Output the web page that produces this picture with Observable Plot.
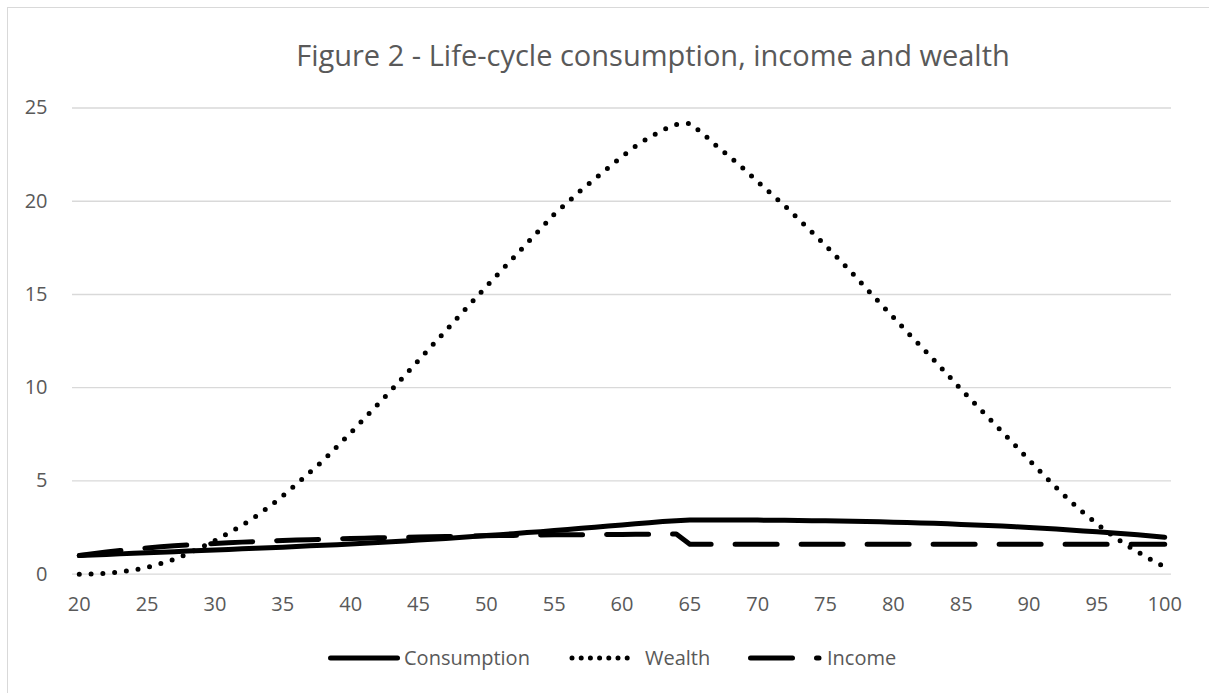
<!DOCTYPE html>
<html>
<head>
<meta charset="utf-8">
<script src="https://cdn.jsdelivr.net/npm/d3@7"></script>
<script src="https://cdn.jsdelivr.net/npm/@observablehq/plot@0.6"></script>
<style>
  html, body { margin: 0; padding: 0; background: #fff; }
  #wrap { position: relative; width: 1209px; height: 693px; overflow: hidden; font-family: "Open Sans", sans-serif; color: #595959; }
  #frame { position: absolute; left: 7px; top: 7px; width: 1300px; height: 800px; border-left: 1.5px solid #d9d9d9; border-top: 1.5px solid #d9d9d9; box-sizing: border-box; }
  #title { position: absolute; top: 40px; left: 653px; transform: translateX(-50%); white-space: nowrap; font-size: 29px; line-height: 29px; color: #595959; }
  #chart { position: absolute; left: 0; top: 90px; }
  .leg { position: absolute; top: 648px; font-size: 20px; line-height: 20px; white-space: nowrap; color: #595959; }
  .sw { position: absolute; top: 648px; }
</style>
</head>
<body>
<div id="wrap">
  <div id="frame"></div>
  <div id="title">Figure 2 - Life-cycle consumption, income and wealth</div>
  <div id="chart"></div>
  <svg class="sw" style="left:320px" width="90" height="20"><line x1="10.5" y1="10" x2="77.5" y2="10" stroke="#000" stroke-width="5" stroke-linecap="round"/></svg>
  <div class="leg" style="left:404px">Consumption</div>
  <svg class="sw" style="left:560px" width="90" height="20"><line x1="12" y1="10" x2="75" y2="10" stroke="#000" stroke-width="5" stroke-linecap="round" stroke-dasharray="0 9.2"/></svg>
  <div class="leg" style="left:645px">Wealth</div>
  <svg class="sw" style="left:740px" width="90" height="20"><line x1="10.5" y1="10" x2="79" y2="10" stroke="#000" stroke-width="5" stroke-linecap="round" stroke-dasharray="42 24"/></svg>
  <div class="leg" style="left:827px">Income</div>
</div>
<script>
const ages = [20,21,22,23,24,25,26,27,28,29,30,31,32,33,34,35,36,37,38,39,40,41,42,43,44,45,46,47,48,49,50,51,52,53,54,55,56,57,58,59,60,61,62,63,64,65,66,67,68,69,70,71,72,73,74,75,76,77,78,79,80,81,82,83,84,85,86,87,88,89,90,91,92,93,94,95,96,97,98,99,100];

const consumption = [1.00,1.03,1.06,1.09,1.12,1.15,1.18,1.21,1.24,1.27,1.30,1.33,1.36,1.39,1.42,1.45,1.48,1.52,1.55,1.58,1.62,1.66,1.70,1.74,1.78,1.83,1.87,1.92,1.97,2.02,2.07,2.12,2.17,2.23,2.28,2.34,2.40,2.46,2.52,2.58,2.64,2.70,2.76,2.82,2.87,2.90,2.91,2.91,2.91,2.90,2.90,2.89,2.89,2.88,2.87,2.86,2.85,2.84,2.82,2.81,2.79,2.77,2.75,2.73,2.70,2.67,2.64,2.61,2.58,2.54,2.50,2.46,2.42,2.37,2.32,2.27,2.22,2.17,2.11,2.05,1.98];

const wealth = [0.00,0.02,0.05,0.12,0.22,0.36,0.57,0.80,1.10,1.45,1.80,2.20,2.62,3.10,3.62,4.20,4.82,5.47,6.11,6.85,7.58,8.34,9.10,9.87,10.67,11.46,12.26,13.05,13.85,14.64,15.43,16.20,16.97,17.75,18.52,19.30,19.95,20.60,21.20,21.80,22.40,22.95,23.42,23.82,24.12,24.18,23.60,22.95,22.35,21.72,21.05,20.40,19.75,19.05,18.35,17.63,16.88,16.12,15.33,14.55,13.78,13.00,12.25,11.48,10.70,9.90,9.15,8.40,7.65,6.90,6.12,5.38,4.65,3.95,3.30,2.70,2.15,1.65,1.20,0.78,0.38];

const income = [1.00,1.10,1.19,1.27,1.34,1.41,1.47,1.52,1.57,1.61,1.65,1.68,1.72,1.75,1.78,1.81,1.83,1.85,1.87,1.89,1.91,1.93,1.95,1.96,1.98,1.99,2.01,2.02,2.03,2.05,2.06,2.07,2.08,2.09,2.10,2.11,2.11,2.12,2.12,2.13,2.13,2.14,2.14,2.15,2.15,1.60,1.60,1.60,1.60,1.60,1.60,1.60,1.60,1.60,1.60,1.60,1.60,1.60,1.60,1.60,1.60,1.60,1.60,1.60,1.60,1.60,1.60,1.60,1.60,1.60,1.60,1.60,1.60,1.60,1.60,1.60,1.60,1.60,1.60,1.60,1.60];

const xTicks = [20,25,30,35,40,45,50,55,60,65,70,75,80,85,90,95,100];
const yTicks = [0,5,10,15,20,25];

const rows = ages.map((a, i) => ({age: a, consumption: consumption[i], wealth: wealth[i], income: income[i]}));

const chart = Plot.plot({
  width: 1209,
  height: 540,
  marginTop: 17.5,
  marginBottom: 56.3,
  marginLeft: 72,
  marginRight: 38,
  style: {fontFamily: "Open Sans, sans-serif", fontSize: "20px", color: "#595959", background: "transparent"},
  x: {domain: [19.5, 100.5]},
  y: {domain: [0, 25]},
  marks: [
    Plot.gridY(yTicks, {stroke: "#d9d9d9", strokeOpacity: 1, strokeWidth: 1.3}),
    Plot.axisY(yTicks, {tickSize: 0, tickPadding: 25, fontSize: 20, label: null}),
    Plot.axisX(xTicks, {tickSize: 0, tickPadding: 23, fontSize: 20, label: null}),
    Plot.line(rows, {x: "age", y: "income", stroke: "#000", strokeWidth: 5, strokeLinecap: "round", strokeLinejoin: "round", strokeDasharray: "42 24"}),
    Plot.line(rows, {x: "age", y: "consumption", stroke: "#000", strokeWidth: 5, strokeLinecap: "round", strokeLinejoin: "round"}),
    Plot.line(rows, {x: "age", y: "wealth", stroke: "#000", strokeWidth: 5, strokeLinecap: "round", strokeLinejoin: "round", strokeDasharray: "0 11.8"})
  ]
});
document.getElementById("chart").appendChild(chart);
</script>
</body>
</html>
